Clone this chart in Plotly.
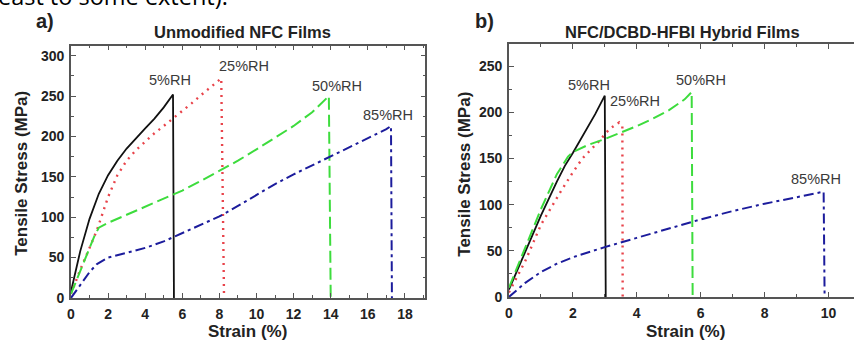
import plotly.graph_objects as go

W, H = 854, 346

# ---- Panel a: unmodified NFC films (strain %, stress MPa) ----
a_rh5_x = [0, 0.5, 1.0, 1.5, 2.0, 2.5, 3.0, 3.5, 4.0, 4.5, 5.0, 5.5, 5.55]
a_rh5_y = [8, 58, 98, 129, 152, 170, 185, 198, 210, 222, 236, 252, 0]

a_rh25_x = [0, 0.5, 1.0, 1.4, 1.75, 2.0, 2.5, 3.0, 3.5, 4.0, 4.5, 5.0, 5.5, 6.0, 6.5, 7.0, 7.5, 8.1, 8.25]
a_rh25_y = [5, 35, 62, 84, 108, 125, 152, 170, 183, 194, 204, 213, 222, 232, 241, 251, 261, 272, 0]

a_rh50_x = [0, 0.4, 0.7, 1.0, 1.25, 1.5, 2, 3, 4, 5, 6, 7, 8, 9, 10, 11, 12, 13, 13.9, 14.0]
a_rh50_y = [5, 28, 46, 63, 76, 87, 93, 103, 113, 123, 133, 145, 157, 170, 184, 198, 213, 230, 250, 0]

a_rh85_x = [0, 0.3, 0.7, 1.0, 1.4, 2, 3, 4, 5, 6, 7, 8, 9, 10, 11, 12, 13, 14, 15, 16, 17, 17.25, 17.3]
a_rh85_y = [0, 10, 22, 32, 42, 50, 56, 62, 70, 80, 90, 101, 114, 128, 141, 153, 164, 175, 187, 198, 209, 213, 0]

# ---- Panel b: NFC/DCBD-HFBI hybrid films ----
b_rh5_x = [0, 0.5, 1.0, 1.5, 1.75, 2.0, 2.4, 2.7, 3.0, 3.03]
b_rh5_y = [8, 48, 88, 125, 142, 156, 180, 198, 218, 0]

b_rh25_x = [0, 0.5, 1.0, 1.25, 1.6, 2.0, 2.3, 2.8, 3.15, 3.45, 3.55, 3.56]
b_rh25_y = [5, 38, 78, 93, 113, 135, 150, 168, 182, 189, 185, 0]

b_rh50_x = [0, 0.5, 1.0, 1.5, 1.85, 2.0, 2.5, 3.0, 3.5, 4.0, 4.5, 5.0, 5.5, 5.72, 5.75]
b_rh50_y = [10, 52, 95, 133, 152, 157, 165, 171, 178, 185, 193, 202, 214, 222, 0]

b_rh85_x = [0, 0.5, 1, 1.5, 2, 3, 4, 5, 6, 7, 8, 9, 9.85, 9.88]
b_rh85_y = [0, 15, 27, 36, 43, 54, 64, 74, 84, 93, 101, 108, 114, 0]

series_labels = ["5%RH", "25%RH", "50%RH", "85%RH"]

# line styles for the four humidity levels
styles = [
    dict(color="#111111", width=1.8, dash="solid"),
    dict(color="#e8434a", width=2.4, dash="2px,5px"),
    dict(color="#3ddc3d", width=2.0, dash="12px,5px"),
    dict(color="#1c1c9c", width=2.0, dash="10px,4px,3px,4px"),
]

fig = go.Figure()

panel_a = [(a_rh5_x, a_rh5_y), (a_rh25_x, a_rh25_y), (a_rh50_x, a_rh50_y), (a_rh85_x, a_rh85_y)]
panel_b = [(b_rh5_x, b_rh5_y), (b_rh25_x, b_rh25_y), (b_rh50_x, b_rh50_y), (b_rh85_x, b_rh85_y)]

for (xs, ys), st, name in zip(panel_a, styles, series_labels):
    fig.add_trace(go.Scatter(x=xs, y=ys, mode="lines", line=st, name=name,
                             xaxis="x", yaxis="y", showlegend=False))
for (xs, ys), st, name in zip(panel_b, styles, series_labels):
    fig.add_trace(go.Scatter(x=xs, y=ys, mode="lines", line=st, name=name,
                             xaxis="x2", yaxis="y2", showlegend=False))


def px_x(p):
    return p / W


def px_y(p):
    return 1 - p / H


tick_font = dict(family="Liberation Sans, Arial", size=14, color="#222", weight="bold")
axis_common = dict(
    showline=True, linecolor="#555", linewidth=1.6,
    ticks="inside", ticklen=5, tickwidth=1.3, tickcolor="#555",
    showgrid=False, zeroline=False, tickfont=tick_font,
)

fig.update_layout(
    width=W, height=H,
    margin=dict(l=0, r=0, t=0, b=0),
    paper_bgcolor="white", plot_bgcolor="white",
    xaxis=dict(domain=[px_x(67.3), px_x(423.3)], range=[0, 19.1], dtick=2,
               mirror="ticks", anchor="y", ticklabelstandoff=2,
               minor=dict(ticks="inside", ticklen=3, dtick=1, tickcolor="#555"),
               **axis_common),
    yaxis=dict(domain=[px_y(305), px_y(46.7)], range=[0, 312.5], dtick=50,
               mirror="ticks", anchor="x", ticklabelstandoff=2,
               minor=dict(ticks="inside", ticklen=3, dtick=25, tickcolor="#555"),
               **axis_common),
    xaxis2=dict(domain=[px_x(507.3), 1.0], range=[0, 10.8], dtick=2,
                mirror="ticks", anchor="y2", ticklabelstandoff=2,
                minor=dict(ticks="inside", ticklen=3, dtick=1, tickcolor="#555"),
                **axis_common),
    yaxis2=dict(domain=[px_y(304), px_y(45)], range=[0, 274], dtick=50,
                mirror=False, anchor="x2", ticklabelstandoff=2,
                minor=dict(ticks="inside", ticklen=3, dtick=25, tickcolor="#555"),
                **axis_common),
)

annos = []


def paper_text(text, x, y, size, angle=0, weight="bold", xanchor="center", color="#222", family="Liberation Sans, Arial"):
    annos.append(dict(text=text, x=px_x(x), y=px_y(y), xref="paper", yref="paper",
                      xanchor=xanchor, yanchor="middle", showarrow=False, textangle=angle,
                      borderpad=0,
                      font=dict(family=family, size=size, color=color, weight=weight)))


# panel letters and titles
paper_text("a)", 41, 21, 20)
paper_text("b)", 483, 21, 20)
paper_text("Unmodified NFC Films", 240, 33, 16.5)
paper_text("NFC/DCBD-HFBI Hybrid Films", 682, 33, 16.5)
# axis titles
paper_text("Tensile Stress (MPa)", 18, 177, 17, angle=-90)
paper_text("Tensile Stress (MPa)", 463, 178, 17, angle=-90)
paper_text("Strain (%)", 245, 339, 17)
paper_text("Strain (%)", 685, 339, 17)
# running text of the page above the figure
annos.append(dict(text="least to some extent).", x=px_x(227), y=px_y(14), xref="paper", yref="paper",
                  xanchor="right", yanchor="bottom", showarrow=False,
                  font=dict(family="Open Sans", size=23.5, color="#000")))

# humidity labels at the curve ends
label_pos_a = [(5.35, 270), (9.3, 287), (14.35, 263), (17.1, 226)]
label_pos_b = [(2.52, 230), (3.95, 212), (6.0, 235), (9.6, 128)]
lab_font = dict(family="Liberation Sans, Arial", size=14.5, color="#3a3a3a")
for name, (lx, ly) in zip(series_labels, label_pos_a):
    annos.append(dict(text=name, x=lx, y=ly, xref="x", yref="y", showarrow=False, font=lab_font))
for name, (lx, ly) in zip(series_labels, label_pos_b):
    annos.append(dict(text=name, x=lx, y=ly, xref="x2", yref="y2", showarrow=False, font=lab_font))

fig.update_layout(annotations=annos)

fig.write_html("out.html")
